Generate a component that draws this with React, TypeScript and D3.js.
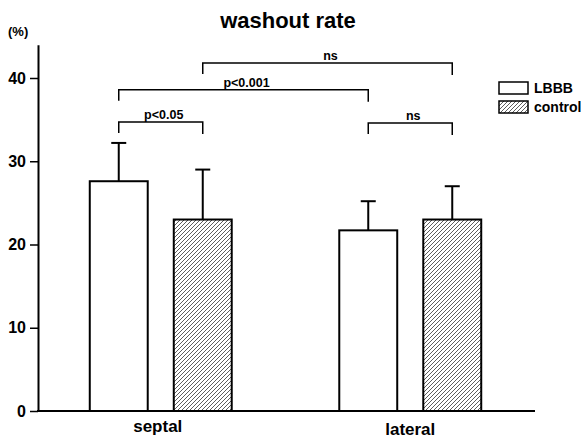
import React, { useEffect, useRef } from "react";
import * as d3 from "d3";

// data
const categories = ["septal", "lateral"];
const series = ["LBBB", "control"];
const means = [
  [27.6, 23.0], // septal: LBBB, control
  [21.7, 23.0], // lateral
];
const sds = [
  [4.6, 6.0],
  [3.5, 4.0],
];
const yTicks = [0, 10, 20, 30, 40];

// significance brackets: [cat, series] pairs and bracket level (%)
const brackets = [
  { a: [0, 0], b: [0, 1], level: 34.7, label: "p<0.05" },
  { a: [0, 0], b: [1, 0], level: 38.6, label: "p<0.001" },
  { a: [0, 1], b: [1, 1], level: 41.8, label: "ns" },
  { a: [1, 0], b: [1, 1], level: 34.6, label: "ns" },
];

const W = 581;
const H = 438;
const FONT = "'Liberation Sans', Arial, Helvetica, sans-serif";

export default function App() {
  const ref = useRef<SVGSVGElement>(null);

  useEffect(() => {
    const svg = d3.select(ref.current);
    svg.selectAll("*").remove();

    const x = d3.scaleBand().domain(categories).range([36, 535]);
    const xi = d3
      .scaleBand()
      .domain(series)
      .range([-84, 84])
      .paddingInner(0.31)
      .paddingOuter(0.155);
    const y = d3.scaleLinear().domain([0, 40]).range([411, 78]);

    const barX = (c: number, s: number) =>
      (x(categories[c]) as number) + x.bandwidth() / 2 + (xi(series[s]) as number);
    const barMid = (c: number, s: number) => barX(c, s) + xi.bandwidth() / 2;

    // hatch pattern
    const defs = svg.append("defs");
    defs
      .append("pattern")
      .attr("id", "hatch")
      .attr("patternUnits", "userSpaceOnUse")
      .attr("width", 4)
      .attr("height", 4)
      .append("path")
      .attr("d", "M-1,1 l2,-2 M0,4 l4,-4 M3,5 l2,-2")
      .attr("stroke", "#333")
      .attr("stroke-width", 0.8);

    // title
    svg
      .append("text")
      .attr("x", 288)
      .attr("y", 28)
      .attr("text-anchor", "middle")
      .attr("font-family", FONT)
      .attr("font-weight", "bold")
      .attr("font-size", 22)
      .text("washout rate");

    svg
      .append("text")
      .attr("x", 8)
      .attr("y", 36)
      .attr("font-family", FONT)
      .attr("font-weight", "bold")
      .attr("font-size", 13)
      .text("(%)");

    // y axis
    const yAxis = svg
      .append("g")
      .attr("transform", "translate(38,0)")
      .call(
        d3
          .axisLeft(y.copy().domain([0, 44]).range([411, 44.7]))
          .tickValues(yTicks)
          .tickSize(8)
          .tickSizeOuter(0)
          .tickPadding(4)
      );
    yAxis.select(".domain").attr("stroke", "#000").attr("stroke-width", 2);
    yAxis.selectAll(".tick line").attr("stroke", "#000").attr("stroke-width", 1.5);
    yAxis
      .selectAll(".tick text")
      .attr("font-family", FONT)
      .attr("font-weight", "bold")
      .attr("font-size", 16)
      .attr("fill", "#000");

    // baseline
    svg
      .append("line")
      .attr("x1", 37)
      .attr("x2", 535)
      .attr("y1", y(0))
      .attr("y2", y(0))
      .attr("stroke", "#000")
      .attr("stroke-width", 2);

    // bars + error bars
    const g = svg.append("g");
    categories.forEach((cat, c) => {
      series.forEach((s, si) => {
        const bx = barX(c, si);
        const mid = barMid(c, si);
        const top = y(means[c][si]);
        const errTop = y(means[c][si] + sds[c][si]);
        g.append("line")
          .attr("x1", mid)
          .attr("x2", mid)
          .attr("y1", top)
          .attr("y2", errTop)
          .attr("stroke", "#000")
          .attr("stroke-width", 2);
        g.append("line")
          .attr("x1", mid - 7.5)
          .attr("x2", mid + 7.5)
          .attr("y1", errTop)
          .attr("y2", errTop)
          .attr("stroke", "#000")
          .attr("stroke-width", 2);
        g.append("rect")
          .attr("x", bx)
          .attr("y", top)
          .attr("width", xi.bandwidth())
          .attr("height", y(0) - top)
          .attr("fill", si === 0 ? "#fff" : "url(#hatch)")
          .attr("stroke", "#000")
          .attr("stroke-width", 2);
      });
      svg
        .append("text")
        .attr("x", (x(cat) as number) + x.bandwidth() / 2 + (c === 0 ? -3 : 0))
        .attr("y", c === 0 ? 432 : 435)
        .attr("text-anchor", "middle")
        .attr("font-family", FONT)
        .attr("font-weight", "bold")
        .attr("font-size", 17)
        .text(cat);
    });

    // significance brackets
    brackets.forEach((b) => {
      const x1 = barMid(b.a[0], b.a[1]);
      const x2 = barMid(b.b[0], b.b[1]);
      const ly = y(b.level);
      svg
        .append("path")
        .attr("d", `M${x1},${ly + 11} V${ly} H${x2} V${ly + 12}`)
        .attr("fill", "none")
        .attr("stroke", "#000")
        .attr("stroke-width", 1.5);
      svg
        .append("text")
        .attr("x", (x1 + x2) / 2 + 3)
        .attr("y", ly - 3)
        .attr("text-anchor", "middle")
        .attr("font-family", FONT)
        .attr("font-weight", "bold")
        .attr("font-size", 12.5)
        .text(b.label);
    });

    // legend
    const lg = svg.append("g").attr("transform", "translate(499,82)");
    series.forEach((s, si) => {
      lg.append("rect")
        .attr("x", 0)
        .attr("y", si * 19)
        .attr("width", 29)
        .attr("height", 12)
        .attr("fill", si === 0 ? "#fff" : "url(#hatch)")
        .attr("stroke", "#000")
        .attr("stroke-width", 1.5);
      lg.append("text")
        .attr("x", 35)
        .attr("y", si * 19 + 11)
        .attr("font-family", FONT)
        .attr("font-weight", "bold")
        .attr("font-size", 14)
        .text(s);
    });
  }, []);

  return (
    <svg
      ref={ref}
      width={W}
      height={H}
      style={{ position: "absolute", left: 0, top: 0, background: "#fff" }}
    />
  );
}
